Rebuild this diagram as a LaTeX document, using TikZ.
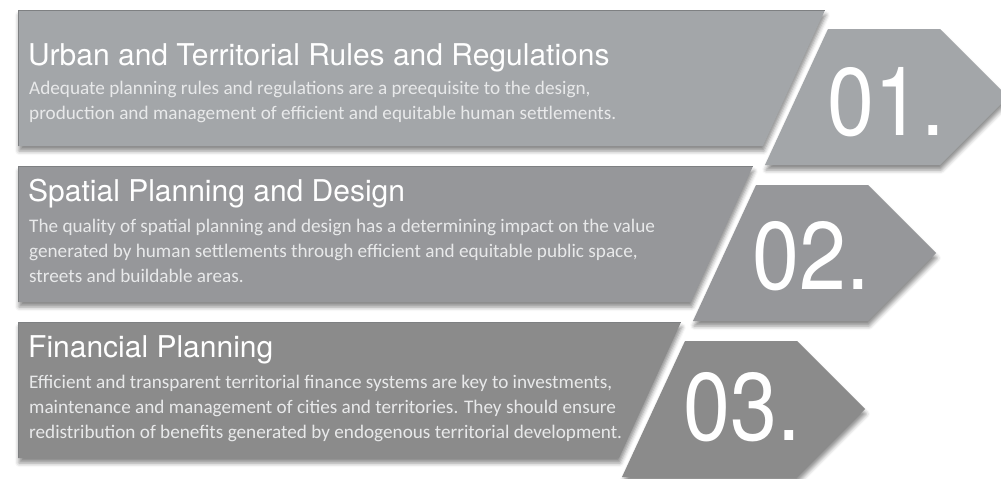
\documentclass[tikz,border=0pt]{standalone}
\usepackage{fontspec}
\setmainfont{Carlito}
\newfontfamily\headfont{TeX Gyre Heros}
\usetikzlibrary{shadows.blur}

\definecolor{rowA}{HTML}{A3A6A9}
\definecolor{rowB}{HTML}{96979A}
\definecolor{rowC}{HTML}{8B8B8B}
\definecolor{edgegray}{HTML}{7E8082}
\definecolor{bodytext}{HTML}{E8E9EA}

\begin{document}
\begin{tikzpicture}[x=1pt, y=-1pt,
    panel/.style={blur shadow={shadow xshift=1pt, shadow yshift=-5pt, shadow blur radius=4pt, shadow opacity=45}},
    rim/.style={edgegray, line width=0.8pt},
    title/.style={anchor=base west, inner sep=0pt, text=white, font=\headfont\fontsize{30}{36}\selectfont},
    body/.style={anchor=base west, inner sep=0pt, align=left, text=bodytext, font=\fontsize{19.2}{25}\selectfont},
    num/.style={inner sep=0pt, text=white, font=\headfont\fontsize{96}{100}\selectfont}]
  \useasboundingbox (0,0) rectangle (1001,479);

  \fill[rowA, panel] (18,10)  -- (825,10)  -- (763,146) -- (18,146) -- cycle;
  \draw[rim]         (18,146) -- (18,10)   -- (825,10);
  \fill[rowA, panel] (828,29) -- (940,29)  -- (1008,97) -- (940,165) -- (765,165) -- cycle;

  \fill[rowB, panel] (18,166) -- (753,166) -- (691,302) -- (18,302) -- cycle;
  \draw[rim]         (18,302) -- (18,166)  -- (753,166);
  \fill[rowB, panel] (756,185) -- (868,185) -- (936,253) -- (868,321) -- (693,321) -- cycle;

  \fill[rowC, panel] (18,322) -- (681,322) -- (619,458) -- (18,458) -- cycle;
  \draw[rim]         (18,458) -- (18,322)  -- (681,322);
  \fill[rowC, panel] (685,341) -- (797,341) -- (865,409) -- (797,477) -- (622,477) -- cycle;

  \node[title] (T1) at (28,65)  {Urban and Territorial Rules and Regulations};
  \node[body]  (B1) at (29,119) {Adequate planning rules and regulations are a preequisite to the design,\\
                                 production and management of efficient and equitable human settlements.};
  \node[num]   (N1) at (886,102) {\scalebox{0.88}[1]{01.}};

  \node[title] (T2) at (28,201) {Spatial Planning and Design};
  \node[body]  (B2) at (29,282) {The quality of spatial planning and design has a determining impact on the value\\
                                 generated by human settlements through efficient and equitable public space,\\
                                 streets and buildable areas.};
  \node[num]   (N2) at (811,256) {\scalebox{0.88}[1]{02.}};

  \node[title] (T3) at (28,357) {Financial Planning};
  \node[body]  (B3) at (29,438) {Efficient and transparent territorial finance systems are key to investments,\\
                                 maintenance and management of cities and territories. They should ensure\\
                                 redistribution of benefits generated by endogenous territorial development.};
  \node[num]   (N3) at (742,407) {\scalebox{0.88}[1]{03.}};
\end{tikzpicture}
\end{document}
